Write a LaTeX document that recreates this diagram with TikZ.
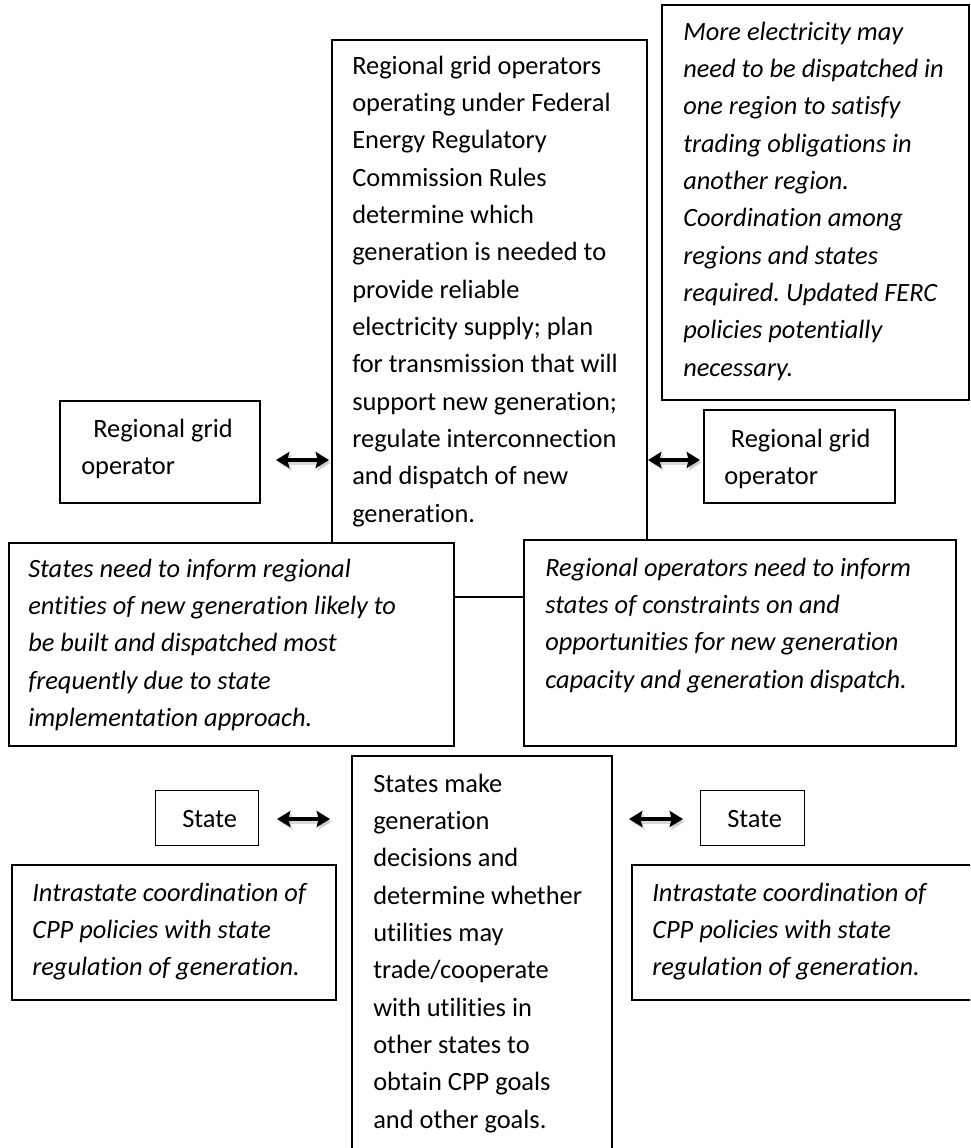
\documentclass[tikz,border=0pt]{standalone}
\usepackage{fontspec}
\setmainfont{Carlito}[Ligatures=NoCommon]
\usetikzlibrary{arrows.meta}
\tikzset{
  box/.style={draw, line width=1.5pt, fill=white, inner sep=0pt, anchor=north west},
  thinbox/.style={draw, line width=1pt, fill=white, inner sep=0pt, anchor=north west},
  txt/.style={anchor=north west, align=left, inner sep=0pt, font=\fontsize{19.8pt}{28pt}\selectfont},
  itxt/.style={txt, font=\fontsize{19.8pt}{28pt}\selectfont\itshape},
  dbl/.style={{Stealth[length=10pt,width=12pt,inset=1.5pt]}-{Stealth[length=10pt,width=12pt,inset=1.5pt]}, line width=3.4pt},
  dblshadow/.style={dbl, draw=black!25, opacity=0.6}
}
\newcommand{\st}{\rule{0pt}{16pt}}
\frenchspacing
\begin{document}
\begin{tikzpicture}[x=0.75pt,y=-0.75pt]
\clip (0,0) rectangle (970,1148);
\fill[white] (0,0) rectangle (970,1148);
% central top box
\node[box, minimum width=315*0.75pt, minimum height=557*0.75pt] (ctop) at (331,39) {};
\node[txt] (ctopt) at (352,52.7) {\st Regional grid operators\\operating under Federal\\Energy Regulatory\\Commission Rules\\determine which\\generation is needed to\\provide reliable\\electricity supply; plan\\for transmission that will\\support new generation;\\regulate interconnection\\and dispatch of new\\generation.};
% top right italic box
\node[box, minimum width=307*0.75pt, minimum height=395*0.75pt] (tr) at (661,4) {};
\node[itxt] (trt) at (683,18.7) {\st More electricity may\\need to be dispatched in\\one region to satisfy\\trading obligations in\\another region.\\Coordination among\\regions and states\\required. Updated FERC\\policies potentially\\necessary.};
% regional grid operators
\node[box, minimum width=200*0.75pt, minimum height=102*0.75pt] (lrgo) at (59,400) {};
\node[txt] (lrgot) at (81,415.7) {\st\hspace*{9pt}Regional grid\\operator};
\node[box, minimum width=191*0.75pt, minimum height=93*0.75pt] (rrgo) at (703,409) {};
\node[txt] (rrgot) at (724,425.7) {\st\hspace*{5pt}Regional grid\\operator};
% italic middle boxes
\node[box, minimum width=445*0.75pt, minimum height=203*0.75pt] (lit) at (8,542) {};
\node[itxt] (litt) at (28,555.7) {\st States need to inform regional\\entities of new generation likely to\\be built and dispatched most\\frequently due to state\\implementation approach.};
\node[box, minimum width=432*0.75pt, minimum height=206*0.75pt] (rit) at (523,539) {};
\node[itxt] (ritt) at (545,554.7) {\st Regional operators need to inform\\states of constraints on and\\opportunities for new generation\\capacity and generation dispatch.};
% states
\node[thinbox, minimum width=103*0.75pt, minimum height=55*0.75pt] (lst) at (155,790) {};
\node[txt] (lstt) at (182,805.7) {\st State};
\node[thinbox, minimum width=104*0.75pt, minimum height=55*0.75pt] (rst) at (700,790) {};
\node[txt] (rstt) at (727,805.7) {\st State};
% central bottom box
\node[box, minimum width=260*0.75pt, minimum height=420*0.75pt] (cbot) at (351,755) {};
\node[txt] (cbott) at (373,770.7) {\st States make\\generation\\decisions and\\determine whether\\utilities may\\trade/cooperate\\with utilities in\\other states to\\obtain CPP goals\\and other goals.};
% intrastate boxes
\node[box, minimum width=324*0.75pt, minimum height=135*0.75pt] (lin) at (11,864) {};
\node[itxt] (lint) at (32,879.7) {\st Intrastate coordination of\\CPP policies with state\\regulation of generation.};
\node[box, minimum width=360*0.75pt, minimum height=135*0.75pt] (rin) at (631,864) {};
\node[itxt] (rint) at (652,879.7) {\st Intrastate coordination of\\CPP policies with state\\regulation of generation.};
% arrows
\coordinate (a1s) at (276,460); \coordinate (a1e) at (329,460);
\coordinate (a2s) at (648,460); \coordinate (a2e) at (700,460);
\coordinate (a3s) at (277,819); \coordinate (a3e) at (330,819);
\coordinate (a4s) at (629,819); \coordinate (a4e) at (683,819);
\foreach \s/\e in {a1s/a1e,a2s/a2e,a3s/a3e,a4s/a4e}{
  \draw[dblshadow, transform canvas={shift={(1.5pt,-2pt)}}] (\s) -- (\e);
  \draw[dbl] (\s) -- (\e);
}
\end{tikzpicture}
\end{document}
